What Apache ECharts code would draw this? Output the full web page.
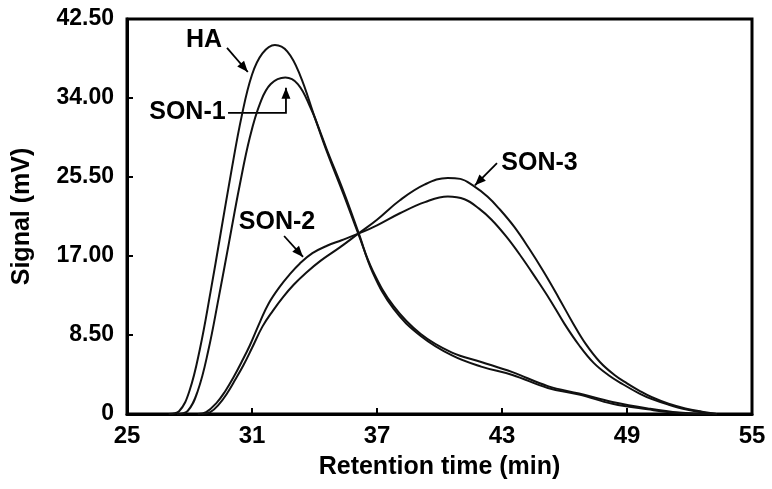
<!DOCTYPE html>
<html>
<head>
<meta charset="utf-8">
<script src="https://cdn.jsdelivr.net/npm/echarts@6/dist/echarts.min.js"></script>
<style>
html,body{margin:0;padding:0;background:#fff;}
#chart{width:772px;height:489px;}
</style>
</head>
<body>
<div id="chart"></div>
<script>
// ---- data ----
const xTicks = [25, 31, 37, 43, 49, 55];
const yTicks = [0, 8.5, 17, 25.5, 34, 42.5];

const haT  = [27.0, 27.5, 28.0, 28.5, 29.0, 29.5, 30.0, 30.5, 31.0, 31.5, 32.1, 32.7, 33.3, 34.0, 34.6, 35.4, 36.1, 36.8, 37.8, 39.1, 40.6, 42.0, 43.5, 45.2, 46.7, 48.3, 50.0, 51.5, 53.0];
const haV  = [0, 0.3, 2.5, 7.0, 13.0, 19.5, 26.0, 32.0, 36.5, 38.8, 39.7, 39.0, 36.5, 32.0, 28.2, 23.6, 19.4, 15.4, 11.6, 8.6, 6.6, 5.6, 4.5, 3.0, 2.2, 1.3, 0.6, 0.15, 0];

const son1T = [27.4, 27.9, 28.4, 28.9, 29.4, 29.9, 30.4, 30.9, 31.4, 31.9, 32.6, 33.2, 33.8, 34.3, 34.6, 35.4, 36.1, 36.8, 37.8, 39.1, 40.6, 42.0, 43.5, 45.2, 46.7, 48.3, 50.0, 51.5, 53.0];
const son1V = [0, 0.3, 2.5, 6.8, 12.5, 18.5, 24.5, 29.8, 33.5, 35.5, 36.2, 35.5, 33.0, 30.2, 28.4, 23.9, 19.6, 15.2, 11.3, 8.4, 6.3, 5.1, 4.2, 2.8, 2.1, 1.1, 0.5, 0.1, 0];

const son2T = [28.4, 28.8, 29.3, 29.7, 30.1, 30.5, 30.9, 31.4, 31.8, 32.3, 32.8, 33.3, 33.9, 34.6, 35.3, 36.1, 37.0, 38.1, 39.3, 40.4, 41.2, 41.9, 42.5, 43.2, 43.9, 44.6, 45.3, 46.0, 46.7, 47.4, 48.1, 48.8, 49.6, 50.2, 51.0, 51.8, 52.6, 53.3];
const son2V = [0, 0.2, 1.2, 2.4, 3.9, 5.6, 7.4, 10.0, 11.9, 13.6, 15.0, 16.2, 17.3, 18.1, 18.7, 19.4, 20.3, 21.6, 22.8, 23.4, 23.1, 22.1, 20.9, 19.1, 17.0, 14.7, 12.3, 9.7, 7.4, 5.5, 4.2, 3.2, 2.2, 1.6, 1.0, 0.5, 0.15, 0];

const son3T = [28.6, 29.0, 29.4, 29.8, 30.2, 30.6, 31.0, 31.5, 32.0, 32.5, 33.0, 33.6, 34.3, 35.2, 36.1, 37.0, 38.1, 39.3, 40.4, 41.0, 41.6, 42.3, 42.9, 43.6, 44.3, 45.0, 45.7, 46.4, 47.0, 47.7, 48.4, 49.0, 49.6, 50.2, 51.0, 51.8, 52.6, 53.3];
const son3V = [0, 0.2, 1.0, 2.2, 3.7, 5.3, 7.1, 9.4, 11.1, 12.6, 13.9, 15.2, 16.5, 17.9, 19.4, 20.9, 23.0, 24.7, 25.4, 25.3, 24.6, 23.4, 22.0, 20.1, 17.8, 15.3, 12.6, 9.8, 7.6, 5.6, 4.2, 3.3, 2.5, 1.8, 1.1, 0.6, 0.25, 0];

const seriesNames = ['HA', 'SON-1', 'SON-2', 'SON-3'];

// annotation labels and arrows, in data coordinates
const annoText = ['HA', 'SON-1', 'SON-2', 'SON-3'];
const annoAt = [[28.7, 40.2], [27.9, 32.5], [32.2, 20.6], [44.8, 27.0]];
const annoPath = [
  [[29.8, 39.4], [30.8, 36.8]],
  [[29.85, 32.4], [32.63, 32.4], [32.63, 35.1]],
  [[32.54, 19.15], [33.45, 16.9]],
  [[42.76, 27.0], [41.7, 24.6]]
];

// ---- chart ----
const FONT = '"Liberation Sans", Arial, Helvetica, sans-serif';
const zip = (a, b) => a.map((t, i) => [t, b[i]]);
const allData = [zip(haT, haV), zip(son1T, son1V), zip(son2T, son2V), zip(son3T, son3V)];

const chart = echarts.init(document.getElementById('chart'), null, {renderer: 'canvas'});

const option = {
  animation: false,
  backgroundColor: '#fff',
  grid: {left: 127, right: 20, top: 19, bottom: 75, show: true, borderColor: '#000', borderWidth: 3, backgroundColor: 'transparent'},
  xAxis: {
    type: 'value', min: 25, max: 55,
    name: 'Retention time (min)', nameLocation: 'middle', nameGap: 41,
    nameTextStyle: {fontFamily: FONT, fontWeight: 'bold', fontSize: 25, color: '#000'},
    axisLine: {show: true, lineStyle: {color: '#000', width: 3}},
    axisTick: {show: true, inside: true, length: 6, lineStyle: {color: '#000', width: 2}, customValues: xTicks},
    axisLabel: {customValues: xTicks, fontFamily: FONT, fontWeight: 'bold', fontSize: 24, color: '#000', margin: 10},
    splitLine: {show: false}
  },
  yAxis: {
    type: 'value', min: 0, max: 42.5, interval: 8.5,
    name: 'Signal (mV)', nameLocation: 'middle', nameGap: 92, nameRotate: 90,
    nameTextStyle: {fontFamily: FONT, fontWeight: 'bold', fontSize: 25, color: '#000'},
    axisLine: {show: true, lineStyle: {color: '#000', width: 3}},
    axisTick: {show: true, inside: true, length: 6, lineStyle: {color: '#000', width: 2}},
    axisLabel: {fontFamily: FONT, fontWeight: 'bold', fontSize: 23, color: '#000', margin: 13,
      formatter: v => (v === 0 ? '0' : v.toFixed(2))},
    splitLine: {show: false}
  },
  series: allData.map((d, i) => ({
    name: seriesNames[i], type: 'line', data: d, smooth: 0.4,
    showSymbol: false, symbol: 'none',
    lineStyle: {color: '#111', width: 2}
  }))
};
chart.setOption(option);

// build annotations through the chart's own coordinate conversion
const px = p => chart.convertToPixel({gridIndex: 0}, p);
const graphics = [];
annoText.forEach((txt, i) => {
  const c = px(annoAt[i]);
  graphics.push({type: 'text', silent: true, style: {
    text: txt, x: c[0], y: c[1], align: 'center', verticalAlign: 'middle',
    font: 'bold 25px ' + FONT, fill: '#000'}});
  const pts = annoPath[i].map(px);
  graphics.push({type: 'polyline', silent: true, shape: {points: pts},
    style: {stroke: '#000', lineWidth: 1.8, fill: null}});
  const a = pts[pts.length - 2], b = pts[pts.length - 1];
  const dx = b[0] - a[0], dy = b[1] - a[1], L = Math.hypot(dx, dy);
  const ux = dx / L, uy = dy / L, hl = 11, hw = 4.5;
  const bx = b[0] - ux * hl, by = b[1] - uy * hl;
  graphics.push({type: 'polygon', silent: true, shape: {points: [
    [b[0], b[1]], [bx - uy * hw, by + ux * hw], [bx + uy * hw, by - ux * hw]]},
    style: {fill: '#000'}});
});
chart.setOption({graphic: graphics});
</script>
</body>
</html>
